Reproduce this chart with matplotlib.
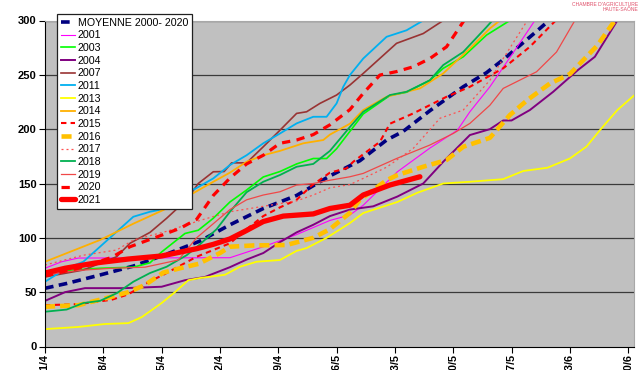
import matplotlib
matplotlib.use("Agg")
import matplotlib.pyplot as plt

plt.rcParams['font.family'] = ['Liberation Sans', 'DejaVu Sans']

# Day offsets from 1 April and cumulative values for each season
tick_days = [0, 7, 14, 21, 28, 35, 42, 49, 56, 63, 70]
tick_labels = ["01/4", "08/4", "15/4", "22/4", "29/4", "06/5", "13/5", "20/5", "27/5", "03/6", "10/6"]

d_moy = [0, 2.6, 6.6, 10.6, 14.6, 18.6, 22.2, 26.2, 30.2, 34.2, 37.8, 41, 43, 46.2, 50.2, 53, 55, 59, 60.5]
v_moy = [53.6, 58, 65.8, 74, 85, 97, 112, 127, 139, 157, 171, 190, 198, 217, 239, 252, 264, 290, 300]

d_2001 = [0, 2, 4, 22.2, 26.2, 30.2, 34.2, 36.6, 38.2, 42.3, 46.2, 49.5, 51, 53.4, 56.7, 58.8]
v_2001 = [72, 78, 81.4, 81.7, 91.8, 103, 116, 121, 130, 160.8, 182.6, 199, 216, 239, 276, 300]

d_2003 = [0, 6.6, 10.6, 12.6, 14, 16.8, 18.4, 20.2, 22.2, 24.2, 26.2, 28.2, 30.2, 32.2, 33.8, 35, 36.6, 38.2, 41.4, 43.4, 46.2, 47.8, 50.2, 53, 55.8]
v_2003 = [68.8, 72, 73, 77, 87, 104, 107, 118, 133, 144, 156, 161, 168, 173, 173, 182, 198, 214, 231, 234, 245, 256, 266.6, 286.6, 300]

d_2004 = [0, 2.4, 4.8, 9.6, 14, 16.8, 19.2, 22.2, 24.2, 26.2, 28.2, 30.2, 32.2, 34.2, 36.6, 39.4, 42.3, 45.4, 47.8, 51, 53.4, 55, 56, 58.2, 61, 63.9, 66, 68.7]
v_2004 = [42, 50, 53.7, 53.7, 55, 61, 64, 73, 80, 86, 96, 105, 112, 120, 126, 129, 138, 150, 170, 194.6, 200, 208, 208, 217.6, 234.4, 254, 266.6, 300]

d_2007 = [0, 4.6, 8.6, 10.2, 12.6, 14.6, 17, 18.4, 20.2, 21.5, 22.4, 24.2, 26.2, 28.2, 30.2, 31.4, 33, 35, 36.6, 38.2, 42.2, 45.4, 47.8]
v_2007 = [64, 70.4, 82.6, 95, 105, 118, 135, 150, 160.8, 161, 169, 169, 183.8, 199, 214.5, 216, 223.7, 231.4, 240.6, 251.3, 279, 288, 300]

d_2011 = [0, 2.6, 4.6, 6.6, 10.6, 12.6, 14.6, 16.2, 18, 20.2, 22.2, 24.2, 26.2, 28.2, 30.2, 32.2, 33.8, 35, 35.8, 36.6, 38.2, 41, 43.4, 45.4]
v_2011 = [59.6, 72, 78, 91.8, 119.4, 124, 127, 141, 145, 154.7, 167, 176, 187, 196, 205.3, 211.4, 211.4, 223.7, 239, 249.8, 265, 285, 291, 300]

d_2013 = [0, 4, 7.2, 10, 11.6, 14, 15.6, 17.2, 18.6, 21.6, 23.4, 25.4, 28.2, 30.2, 31.4, 33.8, 36.6, 38.2, 42.3, 44.7, 47.8, 51, 55, 57.4, 60.3, 63, 65, 66.6, 68.7, 70.7]
v_2013 = [16, 18, 20.7, 21.5, 27, 40, 50, 61, 63, 66, 73.4, 78, 79.6, 88, 90.6, 100, 113.6, 122.8, 133, 141.5, 150, 151.6, 154, 161.5, 164.5, 173, 184, 199, 217.6, 231]

d_2014 = [0, 6.6, 10.6, 14.6, 18, 20.2, 22.2, 24.2, 26.2, 28.2, 31, 33.4, 34.2, 36.6, 38.2, 41, 45, 47.8, 51, 53.4, 54.6]
v_2014 = [78, 98, 113, 127, 142, 151.6, 160, 170, 176, 180, 187, 190, 195, 205, 217.6, 229.8, 237.5, 251.3, 274.3, 292.7, 300]

d_2015 = [0, 4, 8, 10, 12.6, 14.2, 18.2, 22.2, 24.2, 26.2, 28.2, 30.2, 32, 34.2, 36.2, 37, 40.2, 41.4, 44.2, 48.2, 51, 55, 58.2, 61.3]
v_2015 = [38, 39, 43, 48, 60, 66, 82.6, 95, 108, 120, 128, 135, 148, 160, 164, 170, 188.4, 205, 214.5, 229.8, 239, 256, 275.8, 300]

d_2016 = [0, 4, 8, 10, 12, 14.2, 16.2, 18.4, 21, 22.2, 25, 29, 32.2, 34.2, 36.6, 37.8, 41, 42.3, 45.4, 48.2, 50.2, 53.4, 55.8, 57.9, 60.6, 63, 66.3, 68.4]
v_2016 = [36.6, 38, 45.8, 50, 56.6, 68, 72, 76, 86, 91.8, 93, 93.4, 100, 108, 123, 135, 153, 157.8, 165.4, 171.6, 183.8, 192, 213, 226.8, 242, 250.7, 277, 300]

d_2017 = [0, 4.6, 8.6, 10.6, 14.6, 18.6, 22.2, 26.2, 30.2, 32.2, 34.2, 36.6, 38.2, 41, 44.2, 47.4, 50.2, 53.4, 55, 57.9]
v_2017 = [75, 84, 88.8, 98, 106, 116, 124, 129, 134, 139.4, 146, 149, 154.7, 165, 182.3, 210, 217.6, 245, 265, 300]

d_2018 = [0, 2.6, 4.6, 6.6, 8.6, 10.6, 12.6, 14.6, 17, 18.6, 20.6, 22.2, 24.2, 26.2, 28.2, 30.2, 32.2, 34.2, 36.6, 38.2, 41.4, 43.4, 46.2, 47.8, 50.2, 53, 53.7]
v_2018 = [32, 34, 40, 42, 49, 59.6, 67.6, 73.4, 84, 94, 108, 124, 142, 151.6, 157.8, 165.4, 168, 180, 202, 216, 231.4, 234.4, 245, 259, 271, 294, 300]

d_2019 = [0, 4, 8, 12, 16, 18.2, 20.2, 22.2, 24.2, 26.2, 28.2, 30.2, 32.2, 34.2, 36.6, 38.2, 42.2, 46.2, 49, 51, 53.4, 55, 59, 61.4, 63.6]
v_2019 = [66, 70, 72, 73, 79.6, 100, 113, 126, 135, 139.4, 142.4, 148.6, 150, 153, 156.2, 159.3, 173, 185.4, 196, 205.3, 222, 237.5, 252.8, 271, 300]

d_2020 = [0, 4, 8, 10.2, 14.2, 16.2, 18.2, 20.2, 22.2, 24.2, 26.2, 28.2, 30.2, 32.2, 34.2, 36.6, 38.2, 40.2, 42.2, 44.2, 46.2, 48.2, 50.3]
v_2020 = [65, 72, 82, 91.8, 103, 108.7, 117, 139, 155, 168, 176, 187, 190, 195, 204, 218, 233, 249.8, 253, 257.4, 265, 275.8, 300]

d_2021 = [0, 2.4, 6, 10, 14, 18.2, 20.2, 22.2, 24, 26.2, 28.6, 32.2, 34.2, 36.6, 38.2, 41.4, 45]
v_2021 = [67.6, 72, 76.8, 80.5, 83.3, 90, 94, 99, 106, 115, 120, 122, 127, 130, 139.4, 148.6, 156.2]

fig = plt.figure(figsize=(6.4, 3.7), dpi=100)
ax = fig.add_axes([45 / 640, 23.5 / 370, 589 / 640, 326 / 370])
ax.set_facecolor('#C0C0C0')

series = [
    ("MOYENNE 2000- 2020", d_moy, v_moy, dict(color='#000080', lw=2.6, dashes=(2.4, 1.5))),
    ("2001", d_2001, v_2001, dict(color='#FF00FF', lw=0.8)),
    ("2003", d_2003, v_2003, dict(color='#00FF00', lw=1.2)),
    ("2004", d_2004, v_2004, dict(color='#800080', lw=1.4)),
    ("2007", d_2007, v_2007, dict(color='#993333', lw=1.2)),
    ("2011", d_2011, v_2011, dict(color='#00B0F0', lw=1.3)),
    ("2013", d_2013, v_2013, dict(color='#FFFF00', lw=1.3)),
    ("2014", d_2014, v_2014, dict(color='#FFB000', lw=1.3)),
    ("2015", d_2015, v_2015, dict(color='#FF0000', lw=1.5, dashes=(2.6, 2.0))),
    ("2016", d_2016, v_2016, dict(color='#FFC000', lw=3.3, dashes=(2.2, 1.1))),
    ("2017", d_2017, v_2017, dict(color='#FF5050', lw=0.9, dashes=(1.6, 2.4))),
    ("2018", d_2018, v_2018, dict(color='#00B050', lw=1.3)),
    ("2019", d_2019, v_2019, dict(color='#F04848', lw=0.9)),
    ("2020", d_2020, v_2020, dict(color='#FF0000', lw=2.3, dashes=(2.6, 2.0))),
    ("2021", d_2021, v_2021, dict(color='#FF0000', lw=3.8, solid_capstyle='round')),
]

handles = []
for label, d, v, style in series:
    line, = ax.plot(d, v, label=label, **style)
    handles.append(line)

ax.set_xlim(0, 70.7)
ax.set_ylim(0, 300)
ax.set_yticks(range(0, 301, 50))
ax.set_xticks(tick_days)
ax.set_xticklabels(tick_labels, rotation=90, fontweight='bold', fontsize=7.8)
for t in ax.get_yticklabels():
    t.set_fontweight('bold')
    t.set_fontsize(8)
ax.tick_params(axis='both', direction='out', length=4, width=0.8, color='black')
ax.tick_params(axis='x', pad=1.2)
ax.tick_params(axis='y', pad=2)

for yv in range(50, 301, 50):
    ax.axhline(yv, color='#3A3A3A', lw=0.9, zorder=0.5)

ax.spines['left'].set_color('black')
ax.spines['bottom'].set_color('black')
ax.spines['top'].set_color('#A8A8A8')
ax.spines['right'].set_color('#A8A8A8')

leg = fig.legend(handles=handles, loc='upper left', bbox_to_anchor=(57 / 640, 1 - 14 / 370),
                 fontsize=7.7, frameon=True, fancybox=False, edgecolor='#202020',
                 framealpha=1, handlelength=1.3, handletextpad=0.3, labelspacing=0.25,
                 borderpad=0.35, borderaxespad=0)
leg.get_frame().set_linewidth(0.9)

fig.text(0.997, 0.995, "CHAMBRE D'AGRICULTURE\nHAUTE-SAÔNE", ha='right', va='top',
         fontsize=3.6, color='#E0506A', linespacing=1.0)

fig.savefig("out.png", dpi=100)
